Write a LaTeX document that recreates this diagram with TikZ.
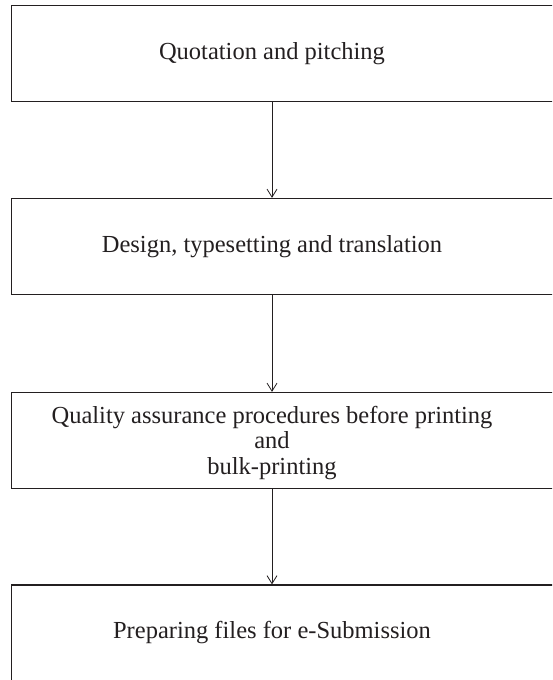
\documentclass[tikz,border=0pt]{standalone}
\usepackage{fontspec}
\setmainfont{Liberation Serif}
\usetikzlibrary{arrows.meta}
\definecolor{ink}{HTML}{231F20}
\begin{document}
\begin{tikzpicture}[x=1pt,y=-1pt,
  stagebox/.style={draw=ink,line width=1.3pt,minimum width=589pt,minimum height=96pt,inner sep=0pt,anchor=west},
  stagetext/.style={text=ink,align=center,inner sep=0pt,font=\fontsize{24.5}{25.5}\selectfont},
  flow/.style={draw=ink,line width=0.8pt,-{Straight Barb[length=8pt,width=10pt,line width=0.8pt]}}]
  \useasboundingbox (0,0) rectangle (552,680);
  \clip (0,0) rectangle (552,680);
  % frames of the four stages
  \node[stagebox] (b1) at (11,53.5) {};
  \node[stagebox] (b2) at (11,246.5) {};
  \node[stagebox] (b3) at (11,440.5) {};
  \node[stagebox] (b4) at (11,633) {};
  % stage captions
  \node[stagetext] (t1) at (272,53.5) {Quotation and pitching};
  \node[stagetext] (t2) at (272,246.5) {Design, typesetting and translation};
  \node[stagetext] (t3) at (272,443) {Quality assurance procedures before printing\\and\\bulk-printing};
  \node[stagetext] (t4) at (272,633) {Preparing files for e-Submission};
  % flow between stages
  \draw[flow] (t1 |- b1.south) -- (t2 |- b2.north);
  \draw[flow] (t2 |- b2.south) -- (t3 |- b3.north);
  \draw[flow] (t3 |- b3.south) -- (t4 |- b4.north);
\end{tikzpicture}
\end{document}
